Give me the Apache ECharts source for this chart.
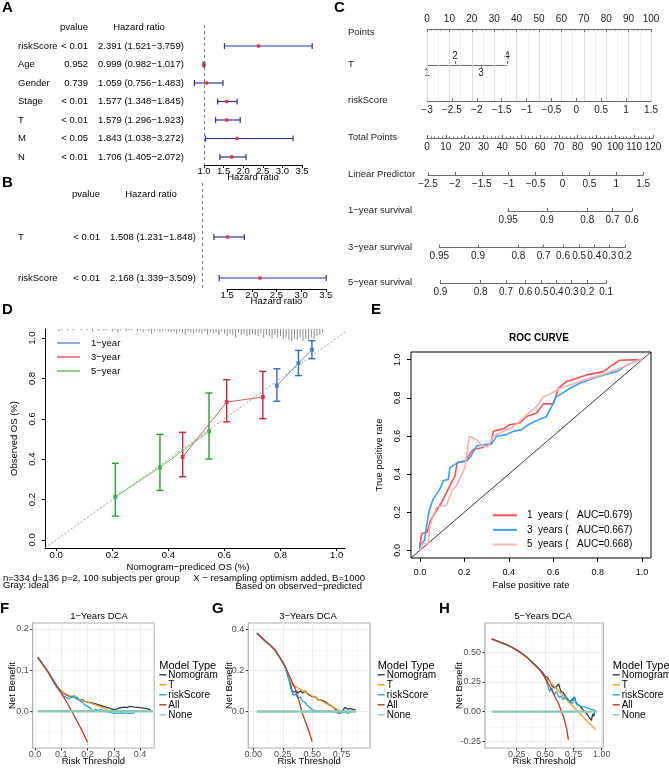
<!DOCTYPE html>
<html lang="en">
<head>
<meta charset="UTF-8">
<title>Prognostic model figure</title>
<script src="https://cdn.jsdelivr.net/npm/echarts@6/dist/echarts.min.js"></script>
<style>
  html, body { margin: 0; padding: 0; background: #fff; }
  #chart { width: 669px; height: 768px; }
</style>
</head>
<body>
<div id="chart"></div>
<script>
const FONT = 'Liberation Sans';

// ---- A: multivariate Cox ----
const coxAVars = ['riskScore', 'Age', 'Gender', 'Stage', 'T', 'M', 'N'];
const coxAP = ['< 0.01', '0.952', '0.739', '< 0.01', '< 0.01', '< 0.05', '< 0.01'];
const coxAHr = [2.391, 0.999, 1.059, 1.577, 1.579, 1.843, 1.706];
const coxALo = [1.521, 0.982, 0.756, 1.348, 1.296, 1.038, 1.405];
const coxAHi = [3.759, 1.017, 1.483, 1.845, 1.923, 3.272, 2.072];

// ---- B: reduced Cox ----
const coxBVars = ['T', 'riskScore'];
const coxBP = ['< 0.01', '< 0.01'];
const coxBHr = [1.508, 2.168];
const coxBLo = [1.231, 1.339];
const coxBHi = [1.848, 3.509];

// ---- C: nomogram scales ----
const tLevels = ['1', '2', '3', '4'];
const tPoints = [0, 12.5, 24.1, 35.7];
const surv1Labels = ['0.95', '0.9', '0.8', '0.7', '0.6'];
const surv1Lp = [-1.01, -0.29, 0.46, 0.93, 1.29];
const surv3Labels = ['0.95', '0.9', '0.8', '0.7', '0.6', '0.5', '0.4', '0.3', '0.2'];
const surv3Lp = [-2.29, -1.57, -0.82, -0.35, 0.01, 0.31, 0.59, 0.87, 1.16];
const surv5Labels = ['0.9', '0.8', '0.7', '0.6', '0.5', '0.4', '0.3', '0.2', '0.1'];
const surv5Lp = [-2.27, -1.52, -1.05, -0.69, -0.39, -0.11, 0.17, 0.46, 0.81];

// ---- D: calibration ----
const calTicks = [0, 0.2, 0.4, 0.6, 0.8, 1.0];
const cal1Pred = [0.787, 0.864, 0.912], cal1Obs = [0.764, 0.876, 0.942];
const cal1Lo = [0.687, 0.814, 0.898], cal1Hi = [0.848, 0.939, 0.987];
const cal3Pred = [0.451, 0.608, 0.737], cal3Obs = [0.411, 0.683, 0.708];
const cal3Lo = [0.313, 0.585, 0.601], cal3Hi = [0.533, 0.794, 0.835];
const cal5Pred = [0.211, 0.370, 0.545], cal5Obs = [0.214, 0.359, 0.538];
const cal5Lo = [0.118, 0.245, 0.401], cal5Hi = [0.380, 0.523, 0.728];
// spike histogram of predicted values, bins of 0.01 starting at 0.01
const rugCounts = [2,1,0,1,0,1,0,0,1,0, 1,0,2,0,1,0,1,1,0,2, 1,3,1,0,2,1,1,0,2,1,
  3,1,2,4,2,1,3,2,1,2, 3,2,4,2,3,5,2,3,4,2, 3,4,2,5,3,4,3,5,2,4,
  6,4,5,7,3,5,4,6,5,4, 5,6,4,7,5,6,8,5,7,6, 8,7,9,10,8,9,7,10,8,9, 7,8,6,5,3];

// ---- E: ROC ----
const rocTicks = [0, 0.2, 0.4, 0.6, 0.8, 1.0];
const roc1 = [[0,0],[0,0.026],[0.008,0.087],[0.033,0.096],[0.048,0.157],[0.075,0.209],[0.098,0.252],[0.113,0.287],[0.135,0.339],[0.158,0.391],[0.168,0.46],[0.203,0.468],[0.218,0.494],[0.24,0.529],[0.278,0.538],[0.32,0.563],[0.33,0.624],[0.375,0.637],[0.405,0.659],[0.45,0.668],[0.48,0.702],[0.525,0.72],[0.556,0.768],[0.6,0.768],[0.623,0.85],[0.66,0.885],[0.706,0.902],[0.75,0.92],[0.826,0.937],[0.856,0.963],[0.9,0.997],[0.99,1],[1,1]];
const roc3 = [[0,0],[0,0.026],[0.02,0.05],[0.033,0.148],[0.042,0.209],[0.06,0.27],[0.075,0.295],[0.09,0.321],[0.105,0.365],[0.128,0.373],[0.135,0.434],[0.158,0.451],[0.177,0.463],[0.21,0.468],[0.23,0.494],[0.255,0.546],[0.285,0.555],[0.32,0.555],[0.345,0.598],[0.39,0.607],[0.42,0.624],[0.458,0.633],[0.488,0.659],[0.525,0.681],[0.57,0.702],[0.593,0.754],[0.613,0.806],[0.63,0.815],[0.676,0.85],[0.72,0.876],[0.78,0.902],[0.84,0.924],[0.886,0.937],[0.931,0.971],[0.98,0.997],[1,1]];
const roc5 = [[0,0],[0,0.009],[0.012,0.035],[0.038,0.035],[0.045,0.13],[0.075,0.226],[0.12,0.235],[0.143,0.313],[0.165,0.339],[0.203,0.434],[0.222,0.598],[0.255,0.58],[0.285,0.546],[0.308,0.546],[0.33,0.598],[0.375,0.624],[0.413,0.642],[0.458,0.685],[0.488,0.72],[0.525,0.754],[0.556,0.806],[0.586,0.82],[0.63,0.85],[0.676,0.867],[0.72,0.885],[0.78,0.907],[0.84,0.928],[0.916,0.963],[0.983,0.997],[1,1]];
const rocNames = ['1  years (   AUC=0.679)', '3  years (   AUC=0.667)', '5  years (   AUC=0.668)'];

// ---- F/G/H: decision curves ----
const dca1All = [[0.01,0.131],[0.03,0.113],[0.05,0.095],[0.075,0.07],[0.1,0.044],[0.125,0.017],[0.15,-0.012],[0.175,-0.042],[0.2,-0.075]];
const dca1Nomogram = [[0.01,0.131],[0.03,0.113],[0.05,0.095],[0.065,0.078],[0.08,0.062],[0.09,0.055],[0.1,0.05],[0.11,0.044],[0.12,0.039],[0.13,0.037],[0.14,0.034],[0.15,0.034],[0.16,0.03],[0.17,0.027],[0.18,0.028],[0.19,0.024],[0.2,0.022],[0.22,0.02],[0.24,0.016],[0.26,0.012],[0.28,0.008],[0.3,0.004],[0.31,0.005],[0.32,0.008],[0.34,0.01],[0.35,0.009],[0.36,0.012],[0.38,0.01],[0.4,0.009],[0.42,0.007],[0.44,0.004]];
const dca1T = [[0.01,0.131],[0.03,0.113],[0.05,0.095],[0.065,0.078],[0.08,0.063],[0.1,0.049],[0.12,0.041],[0.15,0.033],[0.18,0.026],[0.2,0.022],[0.22,0.018],[0.25,0.011],[0.27,0.005],[0.29,0.0]];
const dca1RiskScore = [[0.01,0.131],[0.03,0.113],[0.05,0.095],[0.065,0.077],[0.08,0.06],[0.1,0.045],[0.11,0.036],[0.12,0.033],[0.13,0.03],[0.14,0.036],[0.15,0.038],[0.155,0.03],[0.16,0.035],[0.17,0.025],[0.18,0.022],[0.19,0.015],[0.2,0.012],[0.21,0.009],[0.22,0.0],[0.23,0.005],[0.24,0.002],[0.25,0.004],[0.27,0.0],[0.29,-0.003],[0.3,-0.005],[0.33,-0.004],[0.36,-0.005],[0.38,-0.004]];
const dca1None = [[0.01,0],[0.45,0]];

const dca3All = [[0.03,0.382],[0.08,0.355],[0.13,0.33],[0.185,0.3],[0.23,0.26],[0.27,0.222],[0.31,0.17],[0.355,0.113],[0.385,0.06],[0.412,0.0],[0.44,-0.045],[0.468,-0.088],[0.5,-0.146]];
const dca3Nomogram = [[0.03,0.382],[0.08,0.355],[0.13,0.33],[0.185,0.3],[0.23,0.258],[0.27,0.218],[0.3,0.165],[0.32,0.125],[0.33,0.1],[0.35,0.094],[0.37,0.1],[0.38,0.09],[0.4,0.1],[0.42,0.09],[0.44,0.1],[0.46,0.086],[0.48,0.08],[0.5,0.073],[0.53,0.07],[0.55,0.058],[0.58,0.055],[0.61,0.048],[0.64,0.035],[0.67,0.025],[0.7,0.01],[0.72,-0.005],[0.74,-0.008],[0.76,0.005],[0.78,0.02],[0.8,0.012],[0.82,0.015],[0.85,0.01],[0.87,0.008]];
const dca3T = [[0.03,0.382],[0.08,0.355],[0.13,0.33],[0.185,0.3],[0.23,0.258],[0.27,0.218],[0.3,0.165],[0.33,0.13],[0.4,0.108],[0.5,0.077],[0.6,0.045],[0.68,0.02],[0.75,0.0],[0.87,0.0]];
const dca3RiskScore = [[0.03,0.382],[0.08,0.355],[0.13,0.33],[0.185,0.3],[0.23,0.258],[0.27,0.218],[0.3,0.16],[0.32,0.11],[0.34,0.08],[0.36,0.085],[0.38,0.065],[0.4,0.07],[0.42,0.05],[0.44,0.045],[0.46,0.03],[0.48,0.02],[0.5,0.01],[0.52,0.005],[0.55,0.002],[0.6,0.003],[0.65,0.002],[0.7,-0.004],[0.72,-0.008],[0.75,-0.004],[0.78,-0.002],[0.8,-0.008],[0.82,-0.006]];
const dca3None = [[0.03,0],[0.87,0]];

const dca5All = [[0.03,0.615],[0.1,0.588],[0.15,0.57],[0.2,0.548],[0.25,0.52],[0.3,0.488],[0.35,0.45],[0.4,0.405],[0.456,0.35],[0.5,0.285],[0.544,0.21],[0.58,0.14],[0.618,0.07],[0.662,-0.042],[0.69,-0.14],[0.706,-0.24]];
const dca5Nomogram = [[0.03,0.615],[0.1,0.588],[0.15,0.57],[0.2,0.548],[0.25,0.52],[0.3,0.488],[0.35,0.45],[0.4,0.405],[0.44,0.37],[0.46,0.345],[0.48,0.33],[0.5,0.3],[0.52,0.29],[0.54,0.26],[0.56,0.22],[0.58,0.2],[0.6,0.21],[0.62,0.235],[0.63,0.2],[0.64,0.17],[0.66,0.16],[0.68,0.13],[0.7,0.1],[0.72,0.085],[0.74,0.1],[0.76,0.125],[0.77,0.08],[0.79,0.06],[0.81,0.045],[0.83,0.02],[0.85,0.0],[0.87,-0.02],[0.89,-0.05],[0.91,-0.075],[0.92,-0.02],[0.93,-0.04],[0.94,0.005],[0.95,0.0]];
const dca5T = [[0.03,0.615],[0.1,0.588],[0.15,0.57],[0.2,0.548],[0.25,0.52],[0.3,0.488],[0.35,0.45],[0.4,0.405],[0.44,0.37],[0.5,0.292],[0.6,0.195],[0.69,0.1],[0.78,0.012],[0.86,-0.07],[0.95,-0.155]];
const dca5RiskScore = [[0.03,0.615],[0.1,0.588],[0.15,0.57],[0.2,0.548],[0.25,0.52],[0.3,0.488],[0.35,0.45],[0.4,0.405],[0.44,0.37],[0.46,0.345],[0.48,0.32],[0.5,0.29],[0.52,0.23],[0.54,0.17],[0.56,0.2],[0.58,0.14],[0.6,0.17],[0.62,0.12],[0.64,0.13],[0.66,0.1],[0.68,0.13],[0.7,0.11],[0.72,0.08],[0.74,0.07],[0.76,0.12],[0.78,0.06],[0.8,0.05],[0.83,0.04],[0.86,0.035],[0.9,0.02],[0.93,0.015],[0.95,0.005]];
const dca5None = [[0.03,0],[0.96,0]];

const dcaNames = ['Nomogram', 'T', 'riskScore', 'All', 'None'];
const dcaColors = {Nomogram: '#2c3e50', T: '#f39c1f', riskScore: '#1ea8e2', All: '#c0392b', None: '#8cc8b4'};

// ---------------------------------------------------------------
const grids = [], xAxes = [], yAxes = [], series = [], titles = [], legends = [];
const add = (list, item) => list.push(item) - 1;
const minus = v => String(v).replace('-', '\u2212');

function addText(text, pos, style) {
  titles.push(Object.assign({text, padding: 0,
    textStyle: Object.assign({fontFamily: FONT, color: '#000', fontWeight: 'normal', fontSize: 10}, style)}, pos));
}

// forest plot with a text table on the left
function forest(o) {
  const g = add(grids, {left: o.left, top: o.top, width: 2.5 * o.px, height: o.height});
  const xi = add(xAxes, {gridIndex: g, type: 'value', min: 1, max: 3.5, show: false});
  const yi = add(yAxes, {gridIndex: g, type: 'value', min: o.yMin, max: o.yMax, inverse: true, show: false});
  const rows = o.vars.map((_, i) => i);
  const col = (x, align, values, fmt) => add(yAxes, {
    gridIndex: g, type: 'value', min: o.yMin, max: o.yMax, inverse: true, position: 'left', offset: o.left - x,
    axisLine: {show: false}, axisTick: {show: false}, splitLine: {show: false},
    axisLabel: {customValues: values, formatter: fmt, align, margin: 0, fontSize: 9.5, color: '#000', fontFamily: FONT}
  });
  col(o.nameX, 'left', rows, v => o.vars[v]);
  col(o.pRight, 'right', [o.head].concat(rows), v => v === o.head ? 'pvalue' : o.p[v]);
  col(o.hrX, 'left', rows, v => o.hr[v].toFixed(3) + ' (' + o.lo[v].toFixed(3) + '\u2212' + o.hi[v].toFixed(3) + ')');
  col(o.hrHead, 'center', [o.head], () => 'Hazard ratio');

  const g2 = add(grids, {left: o.left + (o.axisFrom - 1) * o.px, top: o.top,
    width: (3.5 - o.axisFrom) * o.px, height: o.height});
  add(xAxes, {gridIndex: g2, type: 'value', min: o.axisFrom, max: 3.5, interval: 0.5,
    axisLine: {lineStyle: {color: '#000', width: 1}},
    axisTick: {length: 3, lineStyle: {color: '#000'}},
    axisLabel: {margin: 1, fontSize: 9.5, color: '#000', formatter: v => v.toFixed(1)},
    splitLine: {show: false},
    name: 'Hazard ratio', nameLocation: 'middle', nameGap: 7, nameTextStyle: {fontSize: 9.5, color: '#000'}});
  add(yAxes, {gridIndex: g2, type: 'value', min: 0, max: 1, show: false});

  series.push({type: 'custom', xAxisIndex: xi, yAxisIndex: yi, clip: false, silent: true,
    encode: {x: [0, 1], y: 2},
    data: o.lo.map((lo, i) => [lo, o.hi[i], i]),
    renderItem: (params, api) => {
      const y = api.value(2);
      const a = api.coord([api.value(0), y]);
      const b = api.coord([api.value(1), y]);
      const st = {stroke: '#2b35a0', lineWidth: 1.2};
      return {type: 'group', children: [
        {type: 'line', shape: {x1: a[0], y1: a[1], x2: b[0], y2: b[1]}, style: st},
        {type: 'line', shape: {x1: a[0], y1: a[1] - 3, x2: a[0], y2: a[1] + 3}, style: st},
        {type: 'line', shape: {x1: b[0], y1: b[1] - 3, x2: b[0], y2: b[1] + 3}, style: st}
      ]};
    }});
  series.push({type: 'scatter', xAxisIndex: xi, yAxisIndex: yi, clip: false, silent: true,
    symbol: 'rect', symbolSize: 3.5, itemStyle: {color: '#e8262a'},
    data: o.hr.map((h, i) => [h, i]),
    markLine: {silent: true, symbol: 'none', label: {show: false}, animation: false,
      lineStyle: {type: [3, 3], color: '#7a7a7a', width: 1}, data: [{xAxis: 1}]}});
}

forest({vars: coxAVars, p: coxAP, hr: coxAHr, lo: coxALo, hi: coxAHi,
  left: 204, px: 39.2, top: 25, height: 140, yMin: -1.135, yMax: 6.433, head: -1, axisFrom: 1,
  nameX: 18, pRight: 88, hrX: 98, hrHead: 139});
forest({vars: coxBVars, p: coxBP, hr: coxBHr, lo: coxBLo, hi: coxBHi,
  left: 202.5, px: 49.3, top: 183, height: 106, yMin: -1.317, yMax: 1.268, head: -1.05, axisFrom: 1.5,
  nameX: 18, pRight: 100, hrX: 110, hrHead: 151});

// ---- C nomogram ----
const NOMO_LABEL_X = 348;
const PT_LEFT = 427, PT_W = 224, TOT_W = 226;
const LP_LEFT = 428, LP_PX = 53.8;
const lpX = v => LP_LEFT + (v + 2.5) * LP_PX;
const nomoLineStyle = {color: '#6b6b6b', width: 1};
const nomoText = {fontSize: 10, color: '#1a1a1a', fontFamily: FONT};
const nomoNameText = {fontSize: 9.5, color: '#1a1a1a', fontFamily: FONT};

function nomoName(g, text, left, frac) {
  add(yAxes, {gridIndex: g, type: 'value', min: 0, max: 1, inverse: true, offset: left - NOMO_LABEL_X,
    axisLine: {show: false}, axisTick: {show: false}, splitLine: {show: false},
    axisLabel: Object.assign({customValues: [frac], formatter: () => text, align: 'left', margin: 0}, nomoNameText)});
}

function nomoRow(text, lineY, left, width, min, max, o) {
  const g = add(grids, {left, top: lineY - 1, width, height: 1});
  add(xAxes, {gridIndex: g, type: 'value', position: 'bottom', min, max, interval: o.interval,
    axisLine: {lineStyle: nomoLineStyle},
    axisTick: {inside: true, length: 3, lineStyle: nomoLineStyle, customValues: o.ticks},
    minorTick: {show: !!o.minor, splitNumber: o.minor || 5, length: 1.5, lineStyle: nomoLineStyle},
    axisLabel: Object.assign({margin: 4, customValues: o.ticks, formatter: o.fmt}, nomoText),
    splitLine: {show: false}});
  nomoName(g, text, left, 0.5);
}

// Points (with the light vertical guide lines)
let gP = add(grids, {left: PT_LEFT, top: 29, width: PT_W, height: 72});
add(xAxes, {gridIndex: gP, type: 'value', position: 'top', min: 0, max: 100, interval: 10, z: 2,
  axisLine: {lineStyle: nomoLineStyle},
  axisTick: {inside: true, length: 3, lineStyle: nomoLineStyle},
  minorTick: {show: true, splitNumber: 5, length: 1.5, lineStyle: nomoLineStyle},
  axisLabel: Object.assign({margin: 5}, nomoText),
  splitLine: {show: true, lineStyle: {color: '#d6d6d6', width: 0.8}}});
add(xAxes, {gridIndex: gP, type: 'value', position: 'bottom', min: 0, max: 100, interval: 5, z: 1,
  axisLine: {show: false}, axisTick: {show: false}, axisLabel: {show: false},
  splitLine: {show: true, lineStyle: {color: '#ececec', width: 0.8}}});
nomoName(gP, 'Points', PT_LEFT, 3 / 72);

// T: labels alternate above / below
let gT = add(grids, {left: PT_LEFT, top: 64, width: tPoints[tPoints.length - 1] * PT_W / 100, height: 1});
const tUp = tPoints.filter((_, i) => i % 2 === 1), tDown = tPoints.filter((_, i) => i % 2 === 0);
const tFmt = v => tLevels[tPoints.indexOf(v)];
add(xAxes, {gridIndex: gT, type: 'value', position: 'top', min: 0, max: tPoints[tPoints.length - 1],
  axisLine: {show: false},
  axisTick: {customValues: tUp, length: 3, lineStyle: nomoLineStyle},
  axisLabel: Object.assign({customValues: tUp, formatter: tFmt, margin: 3}, nomoText), splitLine: {show: false}});
add(xAxes, {gridIndex: gT, type: 'value', position: 'bottom', min: 0, max: tPoints[tPoints.length - 1],
  axisLine: {lineStyle: nomoLineStyle},
  axisTick: {customValues: tDown, length: 3, lineStyle: nomoLineStyle},
  axisLabel: Object.assign({customValues: tDown, formatter: tFmt, margin: 3}, nomoText), splitLine: {show: false}});
nomoName(gT, 'T', PT_LEFT, 0.5);

nomoRow('riskScore', 101, PT_LEFT, PT_W, -3, 1.5, {interval: 0.5, fmt: minus});
nomoRow('Total Points', 138, PT_LEFT, TOT_W, 0, 120, {interval: 10, minor: 5});
nomoRow('Linear Predictor', 175, lpX(-2.5), 4 * LP_PX, -2.5, 1.5, {interval: 0.5, fmt: minus});
[['1\u2212year survival', 211, surv1Lp, surv1Labels],
 ['3\u2212year survival', 247.5, surv3Lp, surv3Labels],
 ['5\u2212year survival', 283, surv5Lp, surv5Labels]].forEach(([name, y, lp, lab]) => {
  const a = lp[0], b = lp[lp.length - 1];
  nomoRow(name, y, lpX(a), lpX(b) - lpX(a), a, b, {ticks: lp, fmt: v => lab[lp.indexOf(v)]});
});

// ---- D calibration ----
const D_X = [-0.04, 1.03], D_Y = [-0.04, 1.045];
const gD = add(grids, {left: 45, top: 329, width: 300, height: 219});
const xD = add(xAxes, {gridIndex: gD, type: 'value', min: D_X[0], max: D_X[1],
  axisLine: {lineStyle: {color: '#000', width: 1}},
  axisTick: {customValues: calTicks, length: 3, lineStyle: {color: '#000'}},
  axisLabel: {customValues: calTicks, formatter: v => v.toFixed(1), margin: 2, fontSize: 9.5, color: '#000'},
  splitLine: {show: false},
  name: 'Nomogram\u2212prediced OS (%)', nameLocation: 'middle', nameGap: 14,
  nameTextStyle: {fontSize: 9.5, color: '#000', padding: [0, 14, 0, 0]}});
const yD = add(yAxes, {gridIndex: gD, type: 'value', min: D_Y[0], max: D_Y[1],
  axisLine: {lineStyle: {color: '#000', width: 1}},
  axisTick: {customValues: calTicks, length: 3, lineStyle: {color: '#000'}},
  axisLabel: {customValues: calTicks, formatter: v => v.toFixed(1), rotate: 90, margin: 8, fontSize: 9.5, color: '#000'},
  splitLine: {show: false},
  name: 'Observed OS (%)', nameLocation: 'middle', nameGap: 26, nameRotate: 90,
  nameTextStyle: {fontSize: 9.5, color: '#000'}});
const yRug = add(yAxes, {gridIndex: gD, type: 'value', min: 0, max: 182, inverse: true, show: false});

series.push({type: 'line', xAxisIndex: xD, yAxisIndex: yD, silent: true, symbol: 'none',
  data: [[D_X[0], D_X[0]], [D_X[1], D_X[1]]],
  lineStyle: {color: '#9a9a9a', width: 1, type: [2, 2]}});
series.push({type: 'bar', xAxisIndex: xD, yAxisIndex: yRug, silent: true, barWidth: 1,
  data: rugCounts.map((c, i) => [0.01 + i * 0.01, c]), itemStyle: {color: '#8a8a8a'}});

[['1\u2212year', cal1Pred, cal1Obs, cal1Lo, cal1Hi, '#2f6cbf', '#6394d6'],
 ['3\u2212year', cal3Pred, cal3Obs, cal3Lo, cal3Hi, '#c5223a', '#dc5a6c'],
 ['5\u2212year', cal5Pred, cal5Obs, cal5Lo, cal5Hi, '#24a024', '#62c462']].forEach(([name, pr, ob, lo, hi, col, light]) => {
  series.push({name, type: 'line', xAxisIndex: xD, yAxisIndex: yD, symbol: 'none', silent: true,
    data: pr.map((p, i) => [p, ob[i]]), lineStyle: {color: light, width: 1}, itemStyle: {color: light}});
  series.push({type: 'custom', xAxisIndex: xD, yAxisIndex: yD, silent: true, encode: {x: 0, y: [1, 2]},
    data: pr.map((p, i) => [p, lo[i], hi[i]]),
    renderItem: (params, api) => {
      const a = api.coord([api.value(0), api.value(1)]);
      const b = api.coord([api.value(0), api.value(2)]);
      const st = {stroke: col, lineWidth: 1.4};
      return {type: 'group', children: [
        {type: 'line', shape: {x1: a[0], y1: a[1], x2: b[0], y2: b[1]}, style: st},
        {type: 'line', shape: {x1: a[0] - 3.5, y1: a[1], x2: a[0] + 3.5, y2: a[1]}, style: st},
        {type: 'line', shape: {x1: b[0] - 3.5, y1: b[1], x2: b[0] + 3.5, y2: b[1]}, style: st}
      ]};
    }});
  series.push({type: 'scatter', xAxisIndex: xD, yAxisIndex: yD, silent: true, symbol: 'rect', symbolSize: 4,
    data: pr.map((p, i) => [p, ob[i]]), itemStyle: {color: col}});
});
legends.push({orient: 'vertical', left: 57, top: 336, padding: 0, icon: 'rect', itemWidth: 23, itemHeight: 1.5,
  itemGap: 0, selectedMode: false, data: ['1\u2212year', '3\u2212year', '5\u2212year'],
  textStyle: {fontSize: 9.5, color: '#000', lineHeight: 14, padding: [0, 0, 0, 6]}});

// ---- E ROC ----
const gE = add(grids, {left: 411, top: 352, width: 240, height: 206, show: true, borderColor: '#000', borderWidth: 1});
const xE = add(xAxes, {gridIndex: gE, type: 'value', min: -0.04, max: 1.04,
  axisLine: {show: false},
  axisTick: {customValues: rocTicks, length: 4, lineStyle: {color: '#000'}},
  axisLabel: {customValues: rocTicks, formatter: v => v.toFixed(1), margin: 10, fontSize: 9, color: '#000'},
  splitLine: {show: false},
  name: 'False positive rate', nameLocation: 'middle', nameGap: 22, nameTextStyle: {fontSize: 9.5, color: '#000'}});
const yE = add(yAxes, {gridIndex: gE, type: 'value', min: -0.04, max: 1.04,
  axisLine: {show: false},
  axisTick: {customValues: rocTicks, length: 4, lineStyle: {color: '#000'}},
  axisLabel: {customValues: rocTicks, formatter: v => v.toFixed(1), rotate: 90, margin: 9, fontSize: 9, color: '#000'},
  splitLine: {show: false},
  name: 'True positive rate', nameLocation: 'middle', nameGap: 27, nameRotate: 90, nameTextStyle: {fontSize: 9.5, color: '#000'}});
series.push({type: 'line', xAxisIndex: xE, yAxisIndex: yE, silent: true, symbol: 'none',
  data: [[-0.04, -0.04], [1.04, 1.04]], lineStyle: {color: '#000', width: 0.8}});
[[roc1, '#f8524f'], [roc3, '#3aa0f2'], [roc5, '#ffb0b0']].forEach(([d, c], i) => {
  series.push({name: rocNames[i], type: 'line', xAxisIndex: xE, yAxisIndex: yE, silent: true, symbol: 'none',
    data: d, lineStyle: {color: c, width: 1.6}, itemStyle: {color: c}});
});
legends.push({orient: 'vertical', left: 493, top: 508, padding: 0, icon: 'rect', itemWidth: 24, itemHeight: 2,
  itemGap: 0, selectedMode: false, data: rocNames,
  textStyle: {fontSize: 10, color: '#000', lineHeight: 14.6, padding: [0, 0, 0, 5]}});
addText('ROC CURVE', {left: 539, top: 333, textAlign: 'center'}, {fontSize: 10, fontWeight: 'bold'});

// ---- F/G/H DCA ----
const DCA_TOP = 623, DCA_H = 125;
function dca(o) {
  const g = add(grids, {left: o.left, top: DCA_TOP, width: o.width, height: DCA_H,
    show: true, borderColor: '#ababab', borderWidth: 1.2, backgroundColor: '#fff'});
  const xi = add(xAxes, {gridIndex: g, type: 'value', min: o.x[0], max: o.x[1],
    axisLine: {show: false},
    axisTick: {customValues: o.xTicks, length: 2.5, lineStyle: {color: '#333'}},
    axisLabel: {customValues: o.xTicks, formatter: v => v.toFixed(o.xDec), margin: 2, fontSize: 9, color: '#4d4d4d'},
    splitLine: {show: false},
    name: 'Risk Threshold', nameLocation: 'middle', nameGap: 8, nameTextStyle: {fontSize: 9.5, color: '#000'}});
  const yi = add(yAxes, {gridIndex: g, type: 'value', min: o.y[0], max: o.y[1],
    axisLine: {show: false},
    axisTick: {customValues: o.yTicks, length: 2.5, lineStyle: {color: '#333'}},
    axisLabel: {customValues: o.yTicks, formatter: v => v.toFixed(o.yDec), margin: 4, fontSize: 9, color: '#4d4d4d'},
    splitLine: {show: false},
    name: 'Net Benefit', nameLocation: 'middle', nameGap: o.yNameGap, nameRotate: 90, nameTextStyle: {fontSize: 9.5, color: '#000'}});
  const major = {color: '#ebebeb', width: 1, type: 'solid'};
  const minor = {color: '#f4f4f4', width: 0.6, type: 'solid'};
  const gridLines = []
    .concat(o.xMinor.map(v => ({xAxis: v, lineStyle: minor})))
    .concat(o.yMinor.map(v => ({yAxis: v, lineStyle: minor})))
    .concat(o.xTicks.map(v => ({xAxis: v, lineStyle: major})))
    .concat(o.yTicks.map(v => ({yAxis: v, lineStyle: major})));
  dcaNames.forEach(n => {
    const s = {name: n, type: 'line', xAxisIndex: xi, yAxisIndex: yi, silent: true, symbol: 'none',
      data: o.data[n], lineStyle: {color: dcaColors[n], width: n === 'None' ? 2.4 : 1.3}, itemStyle: {color: dcaColors[n]}};
    if (n === 'None') {
      s.markLine = {silent: true, symbol: 'none', label: {show: false}, animation: false, z: 1, data: gridLines};
    }
    series.push(s);
  });
  legends.push({orient: 'vertical', left: o.legendLeft, top: 669.8, padding: 0, icon: 'rect', itemWidth: 7, itemHeight: 1.4,
    itemGap: 0, selectedMode: false, data: dcaNames,
    textStyle: {fontSize: 10, color: '#000', lineHeight: 7.1, padding: [0, 0, 0, -3]}});
  addText('Model Type', {left: o.legendLeft, top: 660}, {fontSize: 11});
  addText(o.title, {left: o.titleX, top: 611.5, textAlign: 'center'}, {fontSize: 9.5});
}

dca({left: 32.7, width: 121.3, x: [-0.009, 0.453], y: [-0.089, 0.214],
  xTicks: [0, 0.1, 0.2, 0.3, 0.4], xMinor: [0.05, 0.15, 0.25, 0.35, 0.45], xDec: 1,
  yTicks: [0, 0.1, 0.2], yMinor: [-0.05, 0.05, 0.15], yDec: 1, yNameGap: 15,
  legendLeft: 159.3, title: '1\u2212Years DCA', titleX: 99,
  data: {Nomogram: dca1Nomogram, T: dca1T, riskScore: dca1RiskScore, All: dca1All, None: dca1None}});
dca({left: 248.3, width: 121.7, x: [-0.043, 0.992], y: [-0.178, 0.432],
  xTicks: [0, 0.25, 0.5, 0.75], xMinor: [0.125, 0.375, 0.625, 0.875], xDec: 2,
  yTicks: [0, 0.2, 0.4], yMinor: [-0.1, 0.1, 0.3], yDec: 1, yNameGap: 14,
  legendLeft: 377.7, title: '3\u2212Years DCA', titleX: 308,
  data: {Nomogram: dca3Nomogram, T: dca3T, riskScore: dca3RiskScore, All: dca3All, None: dca3None}});
dca({left: 485, width: 118.3, x: [-0.03, 1.014], y: [-0.308, 0.749],
  xTicks: [0.25, 0.5, 0.75, 1.0], xMinor: [0.125, 0.375, 0.625, 0.875], xDec: 2,
  yTicks: [-0.25, 0, 0.25, 0.5], yMinor: [-0.125, 0.125, 0.375, 0.625], yDec: 2, yNameGap: 21,
  legendLeft: 612.7, title: '5\u2212Years DCA', titleX: 543,
  data: {Nomogram: dca5Nomogram, T: dca5T, riskScore: dca5RiskScore, All: dca5All, None: dca5None}});

// ---- free text: panel letters and the calibration footnote ----
[['A', 2, 0], ['B', 2, 175.5], ['C', 334, 0], ['D', 2, 302.5], ['E', 371, 302.5],
 ['F', 0, 601], ['G', 212, 601], ['H', 439, 601]].forEach(([t, x, y]) =>
  addText(t, {left: x, top: y}, {fontSize: 15, fontWeight: 'bold'}));
addText('n=334 d=136 p=2, 100 subjects per group', {left: 3, top: 573}, {fontSize: 9.5});
addText('Gray: ideal', {left: 3, top: 580.5}, {fontSize: 9.5});
addText('X \u2212 resampling optimism added, B=1000', {left: 365, top: 573, textAlign: 'right'}, {fontSize: 9.5});
addText('Based on observed\u2212predicted', {left: 362, top: 581, textAlign: 'right'}, {fontSize: 9.5});

// axes stay at the grid edge, never at zero; names keep their own gap
xAxes.concat(yAxes).forEach(a => {
  a.axisLine = Object.assign({onZero: false}, a.axisLine);
  a.nameMoveOverlap = false;
});

const chart = echarts.init(document.getElementById('chart'));
chart.setOption({
  animation: false,
  textStyle: {fontFamily: FONT},
  title: titles,
  legend: legends,
  grid: grids,
  xAxis: xAxes,
  yAxis: yAxes,
  series
});
</script>
</body>
</html>
